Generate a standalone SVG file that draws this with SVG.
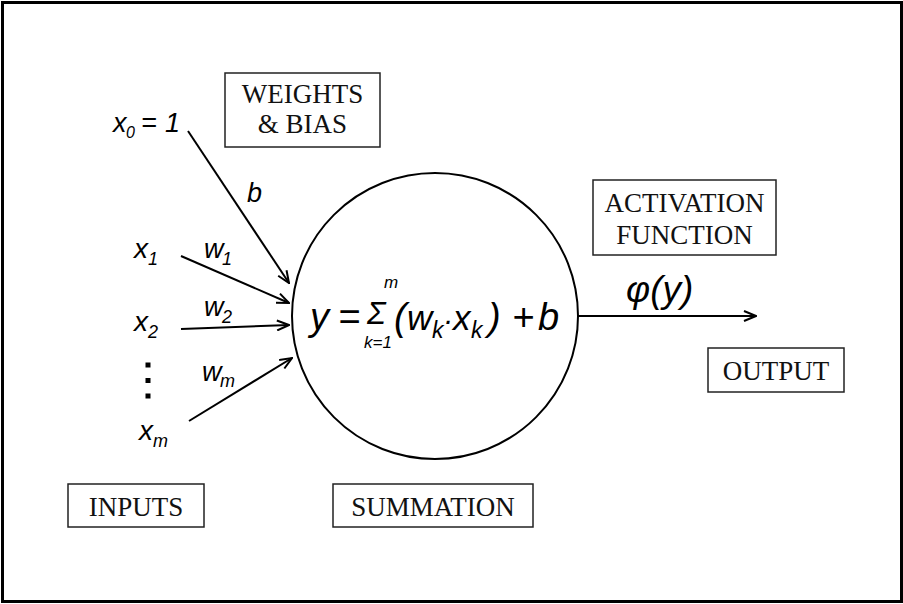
<svg xmlns="http://www.w3.org/2000/svg" width="903" height="604" viewBox="0 0 903 604">
<style>
.box{fill:none;stroke:#222;stroke-width:1.5}
.lbl{font-family:"Liberation Serif",serif;font-size:27px;fill:#111;text-anchor:middle}
.it{font-family:"Liberation Sans",Arial,sans-serif;font-style:italic;fill:#000}
.conn{stroke:#000;stroke-width:2;fill:none}
</style>
<defs>
<marker id="arr" markerWidth="14" markerHeight="12" refX="13" refY="6" orient="auto" markerUnits="userSpaceOnUse">
<path d="M1,1 L13,6 L1,11" fill="none" stroke="#000" stroke-width="2"/>
</marker>
</defs>
<rect x="0" y="0" width="903" height="604" fill="#fff"/>
<rect x="2.5" y="2.5" width="899" height="599" fill="none" stroke="#000" stroke-width="3"/>

<g id="weights">
<rect class="box" x="225" y="73" width="155" height="74"/>
<text class="lbl" x="302.5" y="103">WEIGHTS</text>
<text class="lbl" x="302.5" y="133">&amp; BIAS</text>
</g>
<g id="activation">
<rect class="box" x="593" y="180" width="183" height="75"/>
<text class="lbl" x="684.5" y="212">ACTIVATION</text>
<text class="lbl" x="684.5" y="244">FUNCTION</text>
</g>
<g id="output">
<rect class="box" x="708" y="348" width="136" height="44"/>
<text class="lbl" x="776" y="380">OUTPUT</text>
</g>
<g id="inputs">
<rect class="box" x="68" y="484" width="136" height="43"/>
<text class="lbl" x="136" y="516">INPUTS</text>
</g>
<g id="summation">
<rect class="box" x="333" y="484" width="200" height="43"/>
<text class="lbl" x="433" y="516">SUMMATION</text>
</g>

<g id="neuron">
<circle cx="435" cy="316" r="143" fill="none" stroke="#000" stroke-width="2"/>
<text class="it" font-size="38"><tspan x="310" y="330">y</tspan><tspan x="338" y="330">=</tspan><tspan x="367" y="324" font-size="31">Σ</tspan><tspan x="384" y="288" font-size="17">m</tspan><tspan x="364" y="348" font-size="17">k=1</tspan><tspan x="394" y="330">(</tspan><tspan x="407" y="330" font-size="35">w</tspan><tspan x="432" y="338" font-size="23">k</tspan><tspan x="443" y="330" font-size="30">·</tspan><tspan x="453" y="330" font-size="35">x</tspan><tspan x="471" y="338" font-size="23">k</tspan><tspan x="488" y="330">)</tspan><tspan x="512" y="330">+</tspan><tspan x="538" y="330">b</tspan></text>
</g>

<g id="input-labels">
<text class="it" font-size="27"><tspan x="113" y="132">x</tspan><tspan x="126" y="138" font-size="16">0</tspan><tspan x="141" y="132">=</tspan><tspan x="165" y="132">1</tspan></text>
<text class="it" font-size="28"><tspan x="134" y="258">x</tspan><tspan x="148" y="265" font-size="18">1</tspan></text>
<text class="it" font-size="28"><tspan x="134" y="331">x</tspan><tspan x="148" y="338" font-size="18">2</tspan></text>
<text class="it" font-size="28"><tspan x="139" y="440">x</tspan><tspan x="153" y="447" font-size="18">m</tspan></text>
<rect x="145.5" y="362.5" width="5" height="5" fill="#000"/>
<rect x="145.5" y="378" width="5" height="5" fill="#000"/>
<rect x="145.5" y="393.5" width="5" height="5" fill="#000"/>
</g>

<g id="weight-labels">
<text class="it" font-size="27" x="247" y="202">b</text>
<text class="it" font-size="27"><tspan x="204" y="258">w</tspan><tspan x="222" y="265" font-size="18">1</tspan></text>
<text class="it" font-size="27"><tspan x="204" y="316">w</tspan><tspan x="222" y="323" font-size="18">2</tspan></text>
<text class="it" font-size="27"><tspan x="202" y="381">w</tspan><tspan x="220" y="387" font-size="18">m</tspan></text>
</g>

<g id="out-label">
<text class="it" font-size="37" x="626" y="302">φ(y)</text>
</g>

<g id="connectors">
<line class="conn" x1="188" y1="131" x2="289" y2="283" marker-end="url(#arr)"/>
<line class="conn" x1="181" y1="256" x2="289" y2="303" marker-end="url(#arr)"/>
<line class="conn" x1="181" y1="329" x2="289" y2="325" marker-end="url(#arr)"/>
<line class="conn" x1="189" y1="421" x2="292" y2="358" marker-end="url(#arr)"/>
<line class="conn" x1="578" y1="316" x2="756" y2="316" marker-end="url(#arr)"/>
</g>
</svg>
